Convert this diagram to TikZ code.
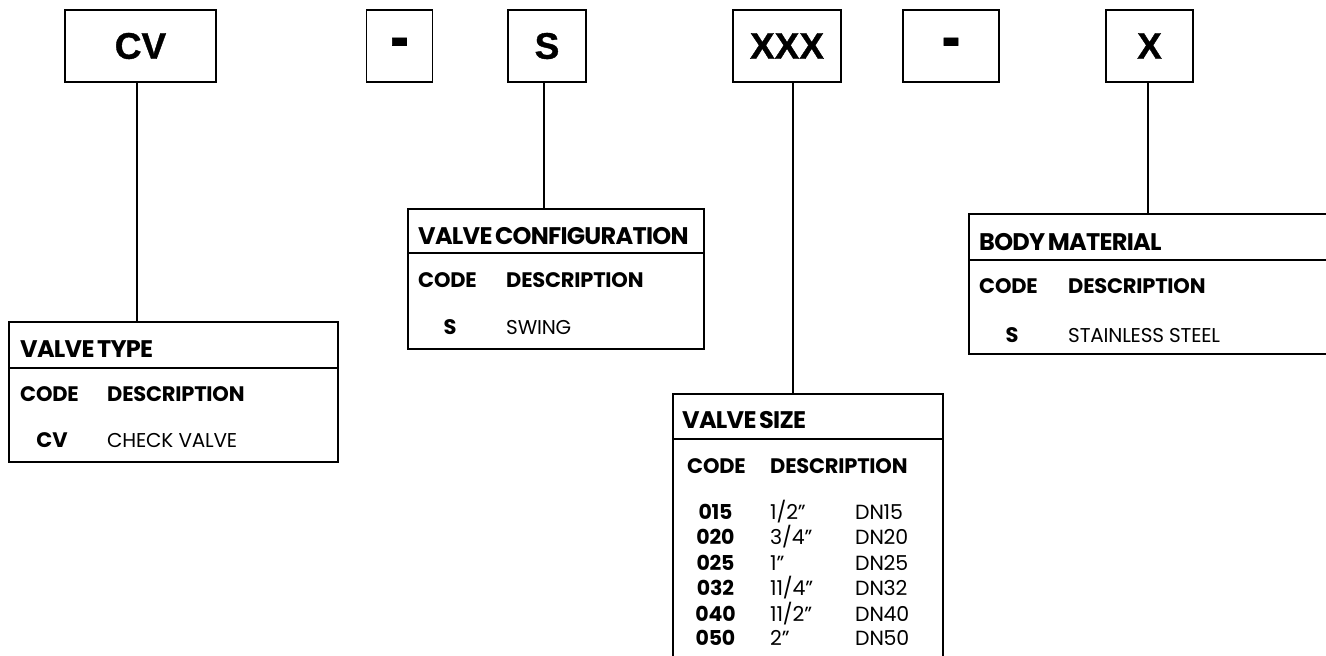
\documentclass[tikz,border=0pt]{standalone}
\usepackage{fontspec}
\setmainfont{Poppins}
\newfontfamily\topfont[BoldFeatures={FakeBold=1}]{Liberation Sans}
\newfontfamily\hdrfont[WordSpace=0.6,LetterSpace=-3]{Poppins}
\newfontfamily\colfont[LetterSpace=-1]{Poppins}
\begin{document}
\begin{tikzpicture}[x=1pt,y=-1pt,
  topbox/.style={draw, line width=1.8pt, minimum height=72, inner sep=0,
    font=\topfont\bfseries\fontsize{37}{37}\selectfont},
  toptext/.style={inner sep=0, font=\topfont\bfseries\fontsize{37}{37}\selectfont},
  tbl/.style={draw, line width=1.8pt, anchor=north west, inner sep=0},
  sepline/.style={line width=1.8pt},
  conn/.style={line width=1.8pt},
  hdr/.style={anchor=west, inner sep=0, text height=17pt, text depth=0pt,
    font=\hdrfont\bfseries\fontsize{24}{24}\selectfont},
  colhd/.style={anchor=west, inner sep=0, text height=14.5pt, text depth=0pt,
    font=\colfont\bfseries\fontsize{21}{21}\selectfont},
  codetxt/.style={anchor=center, inner sep=0, text height=14.5pt, text depth=0pt,
    font=\colfont\bfseries\fontsize{21}{21}\selectfont},
  desctxt/.style={anchor=west, inner sep=0, text height=14pt, text depth=0pt,
    font=\colfont\fontsize{20}{20}\selectfont},
  szcode/.style={anchor=center, inner sep=0, text height=14.5pt, text depth=0pt,
    font=\colfont\bfseries\fontsize{20.5}{21}\selectfont},
  szdesc/.style={anchor=west, inner sep=0, text height=14.5pt, text depth=0pt,
    font=\colfont\fontsize{20.5}{21}\selectfont}
]
\useasboundingbox (0,0) rectangle (1326,656);
\clip (0,0) rectangle (1326,656);

% top code boxes
\node[topbox, minimum width=151] (cv)  at (140.5,46) {CV};
\node[topbox, minimum width=66]  (d1)  at (399.5,46) {};
\node[toptext, yshift=-2pt] (d1t) at (d1.center) {\scalebox{1.5}[1.7]{-}};
\node[topbox, minimum width=78]  (s)   at (547,46)   {S};
\node[topbox, minimum width=108] (xxx) at (787,46)   {XXX};
\node[topbox, minimum width=96]  (d2)  at (951,46)   {};
\node[toptext, yshift=-2pt] (d2t) at (d2.center) {\scalebox{1.5}[1.7]{-}};
\node[topbox, minimum width=87]  (x)   at (1149.5,46) {X};

% tables
\node[tbl, minimum width=329, minimum height=140] (ttype) at (8,321) {};
\node[tbl, minimum width=296, minimum height=140] (tconf) at (407,208) {};
\node[tbl, minimum width=270, minimum height=320] (tsize) at (672,393) {};
\node[tbl, minimum width=420, minimum height=140] (tbody) at (968,213) {};

\draw[sepline] (ttype.west |- 0,368) -- (ttype.east |- 0,368);
\draw[sepline] (tconf.west |- 0,253) -- (tconf.east |- 0,253);
\draw[sepline] (tsize.west |- 0,439) -- (tsize.east |- 0,439);
\draw[sepline] (tbody.west |- 0,260) -- (tbody.east |- 0,260);

% connectors
\draw[conn] ([xshift=-3.5pt]cv.south) -- ([xshift=-3.5pt]cv.south |- ttype.north);
\draw[conn] ([xshift=-3pt]s.south) -- ([xshift=-3pt]s.south |- tconf.north);
\draw[conn] ([xshift=6pt]xxx.south) -- ([xshift=6pt]xxx.south |- tsize.north);
\draw[conn] ([xshift=-1.5pt]x.south) -- ([xshift=-1.5pt]x.south |- tbody.north);

% valve type
\node[hdr] (h1) at (20,349) {VALVE TYPE};
\node[colhd] (c1a) at (20,394) {CODE};
\node[colhd] (c1b) at (107,394) {DESCRIPTION};
\node[codetxt] (r1a) at (52,440) {CV};
\node[desctxt] (r1b) at (107,440) {CHECK VALVE};

% valve configuration
\node[hdr] (h2) at (418,236) {VALVE CONFIGURATION};
\node[colhd] (c2a) at (418,280) {CODE};
\node[colhd] (c2b) at (506,280) {DESCRIPTION};
\node[codetxt] (r2a) at (450,327) {S};
\node[desctxt] (r2b) at (506,327) {SWING};

% body material
\node[hdr] (h4) at (979,242) {BODY MATERIAL};
\node[colhd] (c4a) at (979,286) {CODE};
\node[colhd] (c4b) at (1068,286) {DESCRIPTION};
\node[codetxt] (r4a) at (1012,335) {S};
\node[desctxt] (r4b) at (1068,335) {STAINLESS STEEL};

% valve size
\node[hdr] (h3) at (682,420) {VALVE SIZE};
\node[colhd] (c3a) at (687,466) {CODE};
\node[colhd] (c3b) at (770,466) {DESCRIPTION};
\foreach \y/\c/\f/\d [count=\i] in {512/015/1\slash 2”/DN15, 537/020/3\slash 4”/DN20,
    563/025/1”/DN25, 588/032/11\slash 4”/DN32, 614/040/11\slash 2”/DN40, 638/050/2”/DN50}{
  \node[szcode] (sc\i) at (715.5,\y) {\c};
  \node[szdesc] (sf\i) at (770,\y) {\f};
  \node[szdesc] (sd\i) at (855,\y) {\d};
}
\end{tikzpicture}
\end{document}
